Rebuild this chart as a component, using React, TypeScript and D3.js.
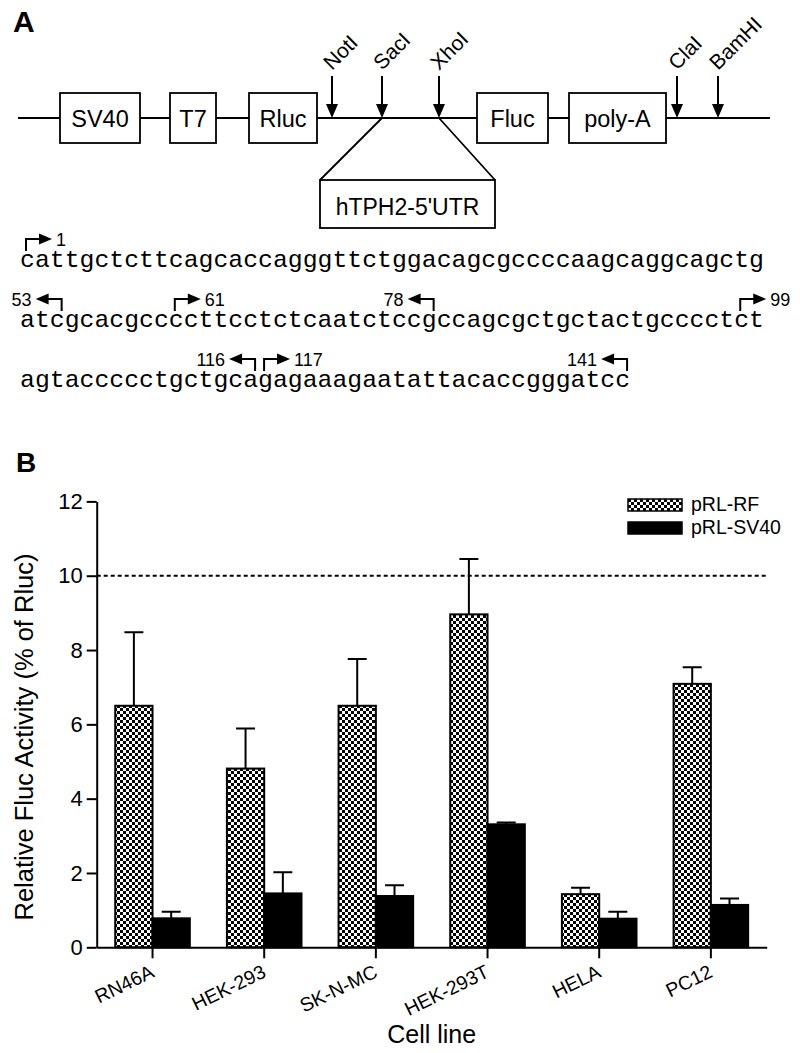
import * as d3 from "d3";
import React, { useEffect, useRef } from "react";

// ---- Panel A: reporter construct (map units = px from the start of the line)
const mapLength = 752;
const elementNames = ["SV40", "T7", "Rluc", "Fluc", "poly-A"];
const elementStart = [42, 152, 231, 459, 551];
const elementEnd = [122, 198, 299, 530, 648];
const siteNames = ["NotI", "SacI", "XhoI", "ClaI", "BamHI"];
const sitePos = [314, 364, 421, 659, 700];
const insertName = "hTPH2-5'UTR";
const insertSpan = [302, 477];

// 5'UTR sequence, 50 nt per line
const seqLines = [
  "cattgctcttcagcaccagggttctggacagcgccccaagcaggcagctg",
  "atcgcacgccccttcctctcaatctccgccagcgctgctactgcccctct",
  "agtaccccctgctgcagagaaagaatattacaccgggatcc",
];
const markerPos = [1, 53, 61, 78, 99, 116, 117, 141];
const markerDir = ["right", "left", "right", "left", "right", "left", "right", "left"];

// ---- Panel B: bar chart
const cellLines = ["RN46A", "HEK-293", "SK-N-MC", "HEK-293T", "HELA", "PC12"];
const seriesNames = ["pRL-RF", "pRL-SV40"];
const rfMean = [6.5, 4.81, 6.5, 8.96, 1.43, 7.09];
const rfErr = [1.98, 1.08, 1.26, 1.49, 0.17, 0.45];
const sv40Mean = [0.78, 1.45, 1.38, 3.31, 0.77, 1.14];
const sv40Err = [0.18, 0.57, 0.29, 0.05, 0.19, 0.17];
const yTicks = [0, 2, 4, 6, 8, 10, 12];
const refLine = 10;

export default function App() {
  const ref = useRef<SVGSVGElement>(null);

  useEffect(() => {
    const svg = d3.select(ref.current);
    svg.selectAll("*").remove();
    const font = "'Liberation Sans', Arial, sans-serif";

    const defs = svg.append("defs");
    const pat = defs
      .append("pattern")
      .attr("id", "checker")
      .attr("width", 6)
      .attr("height", 6)
      .attr("patternUnits", "userSpaceOnUse");
    pat.append("rect").attr("width", 6).attr("height", 6).attr("fill", "#fff");
    pat.append("rect").attr("width", 3).attr("height", 3).attr("fill", "#000");
    pat.append("rect").attr("x", 3).attr("y", 3).attr("width", 3).attr("height", 3).attr("fill", "#000");

    // panel letters
    svg.append("text").attr("x", 13).attr("y", 32).attr("font-family", font)
      .attr("font-size", 30).attr("font-weight", "bold").text("A");
    svg.append("text").attr("x", 16).attr("y", 472).attr("font-family", font)
      .attr("font-size", 28).attr("font-weight", "bold").text("B");

    // ================= Panel A =================
    const mapX = d3.scaleLinear([0, mapLength], [18, 770]);
    const lineY = 118;
    const gA = svg.append("g").attr("font-family", font).attr("stroke-linecap", "butt");

    gA.append("line")
      .attr("x1", mapX(0)).attr("x2", mapX(mapLength))
      .attr("y1", lineY).attr("y2", lineY)
      .attr("stroke", "#000").attr("stroke-width", 1.8);

    const boxes = gA.append("g").selectAll("g").data(d3.range(elementNames.length)).join("g");
    boxes.append("rect")
      .attr("x", (i) => mapX(elementStart[i]))
      .attr("y", lineY - 25)
      .attr("width", (i) => mapX(elementEnd[i]) - mapX(elementStart[i]))
      .attr("height", 50)
      .attr("fill", "#fff").attr("stroke", "#000").attr("stroke-width", 1.8);
    boxes.append("text")
      .attr("x", (i) => (mapX(elementStart[i]) + mapX(elementEnd[i])) / 2)
      .attr("y", lineY + 9)
      .attr("text-anchor", "middle").attr("font-size", 23.5)
      .text((i) => elementNames[i]);

    // insert
    const sac = sitePos[siteNames.indexOf("SacI")];
    const xho = sitePos[siteNames.indexOf("XhoI")];
    gA.append("path")
      .attr("d", `M${mapX(sac)},${lineY}L${mapX(insertSpan[0])},180M${mapX(xho)},${lineY}L${mapX(insertSpan[1])},180`)
      .attr("stroke", "#000").attr("stroke-width", 1.8).attr("fill", "none");
    gA.append("rect")
      .attr("x", mapX(insertSpan[0])).attr("y", 180)
      .attr("width", mapX(insertSpan[1]) - mapX(insertSpan[0])).attr("height", 48)
      .attr("fill", "#fff").attr("stroke", "#000").attr("stroke-width", 1.8);
    gA.append("text")
      .attr("x", (mapX(insertSpan[0]) + mapX(insertSpan[1])) / 2)
      .attr("y", 215).attr("text-anchor", "middle").attr("font-size", 23)
      .text(insertName);

    // restriction sites
    const sites = gA.append("g").selectAll("g").data(d3.range(siteNames.length)).join("g")
      .attr("transform", (i) => `translate(${mapX(sitePos[i])},0)`);
    sites.append("line").attr("y1", 76).attr("y2", 106).attr("stroke", "#000").attr("stroke-width", 2);
    sites.append("path").attr("d", `M-6,104L6,104L0,${lineY}Z`).attr("fill", "#000");
    sites.append("text")
      .attr("transform", "translate(0,71) rotate(-45)")
      .attr("font-size", 21)
      .text((i) => siteNames[i]);

    // sequence
    const cw = 14.88;
    const seqX = d3.scaleLinear([0, 50], [20, 20 + 50 * cw]);
    const baseY = (li: number) => 267 + 60 * li;
    const gS = svg.append("g");
    gS.selectAll("text").data(seqLines).join("text")
      .attr("x", seqX(0))
      .attr("y", (_, li) => baseY(li))
      .attr("font-family", "'Liberation Mono', 'DejaVu Sans Mono', monospace")
      .attr("font-size", 24.8)
      .attr("textLength", (d) => d.length * cw)
      .attr("lengthAdjust", "spacing")
      .text((d) => d);

    const gM = gS.append("g").attr("font-family", font).attr("font-size", 18);
    markerPos.forEach((p, k) => {
      const li = Math.floor((p - 1) / 50);
      const idx = (p - 1) % 50;
      const b = baseY(li);
      const right = markerDir[k] === "right";
      const vx = right ? seqX(idx) + 6 : seqX(idx + 1) - 3;
      const s = right ? 1 : -1;
      const hy = b - 28;
      gM.append("path")
        .attr("d", `M${vx},${b - 16}V${hy}H${vx + s * 14}`)
        .attr("stroke", "#000").attr("stroke-width", 2).attr("fill", "none");
      gM.append("path")
        .attr("d", `M${vx + s * 13},${hy - 5.5}L${vx + s * 26},${hy}L${vx + s * 13},${hy + 5.5}Z`)
        .attr("fill", "#000");
      gM.append("text")
        .attr("x", vx + s * 30)
        .attr("y", hy + 7)
        .attr("text-anchor", right ? "start" : "end")
        .text(p);
    });

    // ================= Panel B =================
    const x0 = d3.scaleBand(cellLines, [96.7, 766.7]).paddingInner(0.332).paddingOuter(0.166);
    const x1 = d3.scaleBand(seriesNames, [0, x0.bandwidth()]);
    const y = d3.scaleLinear([0, 12], [947.3, 501.4]);

    const gB = svg.append("g").attr("font-family", font);

    const series = [
      { name: seriesNames[0], mean: rfMean, err: rfErr, fill: "url(#checker)" },
      { name: seriesNames[1], mean: sv40Mean, err: sv40Err, fill: "#000" },
    ];

    // reference line
    gB.append("line")
      .attr("x1", x0.range()[0]).attr("x2", x0.range()[1])
      .attr("y1", y(refLine)).attr("y2", y(refLine))
      .attr("stroke", "#000").attr("stroke-width", 2).attr("stroke-dasharray", "4,3");

    series.forEach((s) => {
      const g = gB.append("g");
      g.selectAll("rect").data(d3.range(cellLines.length)).join("rect")
        .attr("x", (i) => x0(cellLines[i])! + x1(s.name)!)
        .attr("y", (i) => y(s.mean[i]))
        .attr("width", x1.bandwidth())
        .attr("height", (i) => y(0) - y(s.mean[i]))
        .attr("fill", s.fill)
        .attr("stroke", "#000").attr("stroke-width", 2);
      const cx = (i: number) => x0(cellLines[i])! + x1(s.name)! + x1.bandwidth() / 2;
      g.selectAll("path.err").data(d3.range(cellLines.length)).join("path")
        .attr("class", "err")
        .attr("d", (i) => {
          const top = y(s.mean[i] + s.err[i]);
          return `M${cx(i)},${y(s.mean[i])}V${top}M${cx(i) - 9.5},${top}H${cx(i) + 9.5}`;
        })
        .attr("stroke", "#000").attr("stroke-width", 2).attr("fill", "none");
    });

    // y axis
    gB.append("g")
      .attr("transform", `translate(${x0.range()[0]},0)`)
      .call(d3.axisLeft(y).tickValues(yTicks).tickSize(10).tickSizeOuter(0).tickPadding(4))
      .call((g) => g.selectAll("path, line").attr("stroke-width", 2))
      .call((g) => g.selectAll("text").attr("font-size", 22).attr("font-family", font));

    // x axis
    gB.append("g")
      .attr("transform", `translate(0,${y(0)})`)
      .call(d3.axisBottom(x0).tickSize(11).tickSizeOuter(0))
      .call((g) => g.selectAll("path, line").attr("stroke-width", 2))
      .call((g) => g.selectAll("text").remove());

    gB.append("g").selectAll("text").data(cellLines).join("text")
      .attr("transform", (c) => `translate(${x0(c)! + x0.bandwidth() / 2 + 3},${y(0) + 29}) rotate(-26)`)
      .attr("text-anchor", "end")
      .attr("font-size", 19.5)
      .text((c) => c);

    // axis titles
    gB.append("text")
      .attr("transform", "translate(33,737) rotate(-90)")
      .attr("text-anchor", "middle").attr("font-size", 25.5)
      .text("Relative Fluc Activity (% of Rluc)");
    gB.append("text")
      .attr("x", (x0.range()[0] + x0.range()[1]) / 2).attr("y", 1043)
      .attr("text-anchor", "middle").attr("font-size", 25)
      .text("Cell line");

    // legend
    const leg = gB.append("g").selectAll("g").data(series).join("g")
      .attr("transform", (_, i) => `translate(628,${499 + i * 23})`);
    leg.append("rect").attr("width", 54).attr("height", 12)
      .attr("fill", (d) => d.fill).attr("stroke", "#000").attr("stroke-width", 1.5);
    leg.append("text").attr("x", 63).attr("y", 12).attr("font-size", 19.5).text((d) => d.name);
  }, []);

  return (
    <svg
      ref={ref}
      width={800}
      height={1053}
      style={{ position: "absolute", left: 0, top: 0, background: "#fff" }}
    />
  );
}
